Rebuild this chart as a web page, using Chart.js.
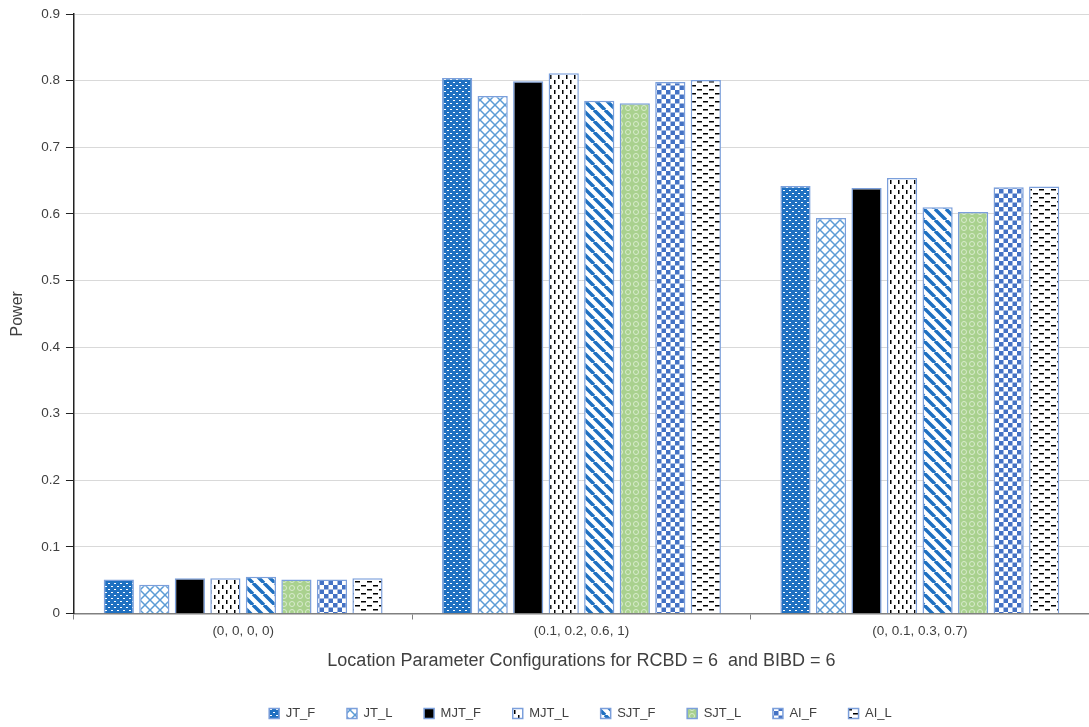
<!DOCTYPE html>
<html>
<head>
<meta charset="utf-8">
<script src="https://cdn.jsdelivr.net/npm/chart.js@4/dist/chart.umd.min.js"></script>
<style>
  html, body { margin: 0; padding: 0; background: #fff; }
  #wrap { width: 1089px; height: 727px; }
</style>
</head>
<body>
<div id="wrap"><canvas id="powerChart"></canvas></div>
<script>
const categories = ['(0, 0, 0, 0)', '(0.1, 0.2, 0.6, 1)', '(0, 0.1, 0.3, 0.7)'];
const seriesNames = ['JT_F', 'JT_L', 'MJT_F', 'MJT_L', 'SJT_F', 'SJT_L', 'AI_F', 'AI_L'];

const jtF  = [0.051, 0.804, 0.642];
const jtL  = [0.043, 0.777, 0.594];
const mjtF = [0.053, 0.799, 0.639];
const mjtL = [0.053, 0.811, 0.654];
const sjtF = [0.055, 0.770, 0.610];
const sjtL = [0.051, 0.766, 0.603];
const aiF  = [0.051, 0.798, 0.640];
const aiL  = [0.053, 0.801, 0.641];

const yTicks = [0, 0.1, 0.2, 0.3, 0.4, 0.5, 0.6, 0.7, 0.8, 0.9];

// small tiles used as bar fills
function tile(w, h, draw) {
  const c = document.createElement('canvas');
  c.width = w; c.height = h;
  const g = c.getContext('2d');
  draw(g, w, h);
  return g.createPattern(c, 'repeat');
}

const patterns = [
  // JT_F - blue with small white dashes
  tile(6, 6, (g) => {
    g.fillStyle = '#1f70c1'; g.fillRect(0, 0, 6, 6);
    g.fillStyle = '#ffffff';
    g.fillRect(0, 1, 2, 1); g.fillRect(3, 4, 2, 1);
  }),
  // JT_L - light blue lattice
  tile(10, 10, (g) => {
    g.fillStyle = '#ffffff'; g.fillRect(0, 0, 10, 10);
    g.strokeStyle = '#5b9bd5'; g.lineWidth = 1.5;
    g.beginPath();
    g.moveTo(0, 0); g.lineTo(10, 10);
    g.moveTo(10, 0); g.lineTo(0, 10);
    g.stroke();
  }),
  // MJT_F - solid black
  '#000000',
  // MJT_L - vertical dashes
  tile(8, 10, (g) => {
    g.fillStyle = '#ffffff'; g.fillRect(0, 0, 8, 10);
    g.fillStyle = '#000000';
    g.fillRect(2, 0, 1.5, 4); g.fillRect(6, 5, 1.5, 4);
  }),
  // SJT_F - wide downward diagonal
  tile(11, 11, (g) => {
    g.fillStyle = '#ffffff'; g.fillRect(0, 0, 11, 11);
    g.strokeStyle = '#1f70c1'; g.lineWidth = 3.5;
    g.beginPath();
    for (let k = -11; k <= 11; k += 11) { g.moveTo(k, 0); g.lineTo(k + 11, 11); }
    g.stroke();
  }),
  // SJT_L - green with circles
  tile(8, 8, (g) => {
    g.fillStyle = '#a9d18e'; g.fillRect(0, 0, 8, 8);
    g.strokeStyle = '#d9ecce'; g.lineWidth = 1;
    g.beginPath(); g.arc(4, 4, 2.5, 0, Math.PI * 2); g.stroke();
  }),
  // AI_F - checkerboard
  tile(9, 9, (g) => {
    g.fillStyle = '#ffffff'; g.fillRect(0, 0, 9, 9);
    g.fillStyle = '#4472c4';
    g.fillRect(0, 0, 4.5, 4.5); g.fillRect(4.5, 4.5, 4.5, 4.5);
  }),
  // AI_L - horizontal dashes
  tile(12, 8, (g) => {
    g.fillStyle = '#ffffff'; g.fillRect(0, 0, 12, 8);
    g.fillStyle = '#000000';
    g.fillRect(1, 1, 5, 1.5); g.fillRect(7, 5, 5, 1.5);
  })
];

const values = [jtF, jtL, mjtF, mjtL, sjtF, sjtL, aiF, aiL];

const datasets = seriesNames.map((name, i) => ({
  label: name,
  data: values[i],
  backgroundColor: patterns[i],
  borderColor: '#7b9fdb',
  borderWidth: 1.5,
  barPercentage: 0.85,
  categoryPercentage: 0.84
}));

// legend in the original sits a little right of centre and a bit lower
const shiftLegend = {
  id: 'shiftLegend',
  afterLayout(chart) {
    const lg = chart.legend;
    if (!lg) return;
    lg.left += 68;
    lg.top += 3;
    lg.bottom += 3;
  }
};

const ctx = document.getElementById('powerChart').getContext('2d');
new Chart(ctx, {
  type: 'bar',
  data: { labels: categories, datasets: datasets },
  plugins: [shiftLegend],
  options: {
    responsive: true,
    maintainAspectRatio: false,
    animation: false,
    layout: { padding: { left: 4, right: 0, top: 3, bottom: 0 } },
    plugins: {
      tooltip: { enabled: false },
      legend: {
        position: 'bottom',
        labels: {
          boxWidth: 10, boxHeight: 10, padding: 31.7,
          color: '#404040',
          font: { family: 'Liberation Sans', size: 13 }
        }
      }
    },
    scales: {
      x: {
        grid: { display: true, drawOnChartArea: false, offset: true, tickLength: 6, color: '#808080' },
        border: { color: '#808080', width: 1.5 },
        ticks: { color: '#404040', font: { family: 'Liberation Sans', size: 13.5 }, padding: 4 },
        title: {
          display: true,
          text: 'Location Parameter Configurations for RCBD = 6  and BIBD = 6',
          color: '#404040',
          font: { family: 'Liberation Sans', size: 18 },
          padding: { top: 7, bottom: 0 }
        }
      },
      y: {
        min: 0, max: 0.9,
        afterBuildTicks: (axis) => { axis.ticks = yTicks.map(v => ({ value: v })); },
        grid: { color: '#d9d9d9', tickLength: 8, tickColor: '#222222' },
        border: { color: '#222222', width: 1.5 },
        ticks: {
          color: '#404040', padding: 6,
          font: { family: 'Liberation Sans', size: 13.5 },
          callback: (v) => String(Math.round(v * 10) / 10)
        },
        title: {
          display: true, text: 'Power', color: '#404040',
          font: { family: 'Liberation Sans', size: 16 },
          padding: { bottom: 8 }
        }
      }
    }
  }
});
</script>
</body>
</html>
